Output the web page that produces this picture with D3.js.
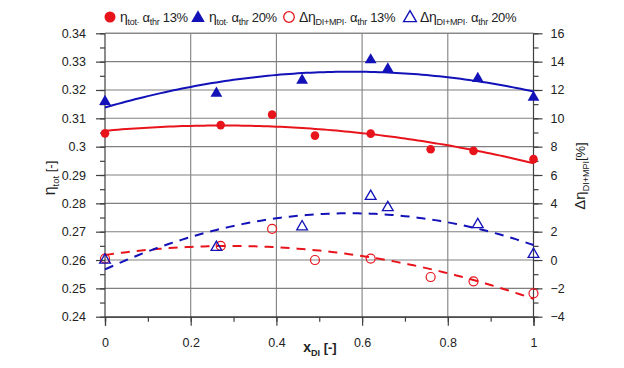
<!DOCTYPE html>
<html><head><meta charset="utf-8">
<script src="https://cdn.jsdelivr.net/npm/d3@7"></script>
<style>body{margin:0;background:#fff} text{font-family:"Liberation Sans",Arial,sans-serif;fill:#222}</style>
</head><body><svg id="c" width="624" height="368"></svg>
<script>
// ---- data ----
const etaX13 = [0, 0.27, 0.39, 0.49, 0.62, 0.76, 0.86, 1.0];
const eta13  = [0.3047, 0.3076, 0.3113, 0.3039, 0.3046, 0.2991, 0.2985, 0.2956];
const etaX20 = [0, 0.26, 0.46, 0.62, 0.66, 0.87, 1.0];
const eta20  = [0.3159, 0.3188, 0.3234, 0.3306, 0.3274, 0.3240, 0.3174];
const dX13   = [0, 0.27, 0.39, 0.49, 0.62, 0.76, 0.86, 1.0];
const d13    = [0.1, 1.0, 2.2, 0.0, 0.1, -1.2, -1.5, -2.35];
const dX20   = [0, 0.26, 0.46, 0.62, 0.66, 0.87, 1.0];
const d20    = [0.0, 0.9, 2.35, 4.5, 3.7, 2.5, 0.4];
const xTicks = [0, 0.2, 0.4, 0.6, 0.8, 1];
const xTickLabels = ["0", "0.2", "0.4", "0.6", "0.8", "1"];
const leftTicks = [0.24, 0.25, 0.26, 0.27, 0.28, 0.29, 0.30, 0.31, 0.32, 0.33, 0.34];
const leftTickLabels = ["0.24","0.25","0.26","0.27","0.28","0.29","0.3","0.31","0.32","0.33","0.34"];
const rightTicks = [-4, -2, 0, 2, 4, 6, 8, 10, 12, 14, 16];

const RED = "#e8141c", BLUE = "#1212b8";
const L = 105, R = 533.5, T = 33.3, B = 316.7;

const svg = d3.select("#c");
const x = d3.scaleLinear().domain([0, 1]).range([L, R]);
const yL = d3.scaleLinear().domain([0.24, 0.34]).range([B, T]);
const yR = d3.scaleLinear().domain([-4, 16]).range([B, T]);

// quadratic least squares trend (like spreadsheet polynomial trendline)
function quadFit(xs, ys) {
  let S = [0,0,0,0,0], Sy = [0,0,0];
  xs.forEach((xv, i) => {
    for (let k = 0; k < 5; k++) S[k] += Math.pow(xv, k);
    for (let k = 0; k < 3; k++) Sy[k] += ys[i] * Math.pow(xv, k);
  });
  const M = [[S[0],S[1],S[2],Sy[0]],[S[1],S[2],S[3],Sy[1]],[S[2],S[3],S[4],Sy[2]]];
  for (let i = 0; i < 3; i++) {
    let p = i; for (let r = i+1; r < 3; r++) if (Math.abs(M[r][i]) > Math.abs(M[p][i])) p = r;
    [M[i], M[p]] = [M[p], M[i]];
    for (let r = 0; r < 3; r++) if (r !== i) {
      const f = M[r][i] / M[i][i];
      for (let c = i; c < 4; c++) M[r][c] -= f * M[i][c];
    }
  }
  const c = M.map((row, i) => row[3] / row[i]);
  return t => c[0] + c[1]*t + c[2]*t*t;
}

// grid
const g = svg.append("g");
g.selectAll(".hg").data(leftTicks.slice(1)).join("line")
  .attr("x1", L).attr("x2", R).attr("y1", d => yL(d)).attr("y2", d => yL(d))
  .attr("stroke", "#808080").attr("stroke-width", 1.1);
g.selectAll(".vg").data(xTicks.slice(1, -1)).join("line")
  .attr("x1", d => x(d)).attr("x2", d => x(d)).attr("y1", T).attr("y2", B)
  .attr("stroke", "#808080").attr("stroke-width", 1.1);

// axes
const axL = svg.append("g").attr("transform", `translate(${L},0)`)
  .call(d3.axisLeft(yL).tickValues(d3.range(0.24, 0.3401, 0.005)).tickSize(5).tickFormat(""));
const axL2 = svg.append("g").attr("transform", `translate(${L},0)`)
  .call(d3.axisLeft(yL).tickValues(leftTicks).tickSize(9).tickPadding(10)
    .tickFormat((d, i) => leftTickLabels[i]));
const axR = svg.append("g").attr("transform", `translate(${R},0)`)
  .call(d3.axisRight(yR).tickValues(d3.range(-4, 16.01, 1)).tickSize(5).tickFormat(""));
const axR2 = svg.append("g").attr("transform", `translate(${R},0)`)
  .call(d3.axisRight(yR).tickValues(rightTicks).tickSize(9).tickPadding(8));
const axB = svg.append("g").attr("transform", `translate(0,${B})`)
  .call(d3.axisBottom(x).tickValues(d3.range(0, 1.001, 0.1)).tickSize(5).tickFormat(""));
const axB2 = svg.append("g").attr("transform", `translate(0,${B})`)
  .call(d3.axisBottom(x).tickValues(xTicks).tickSize(9).tickPadding(12)
    .tickFormat((d, i) => xTickLabels[i]));
[axL, axL2, axR, axR2, axB, axB2].forEach(a => {
  a.selectAll("path").attr("stroke", "#404040").attr("stroke-width", 1.2);
  a.selectAll("line").attr("stroke", "#404040").attr("stroke-width", 1.2);
  a.selectAll("text").attr("font-size", 12.5).attr("fill", "#222")
    .style("font-family", "'Liberation Sans',Arial,sans-serif");
});
[axL, axL2, axR, axR2].forEach(a => a.select(".domain").attr("d", null));
svg.append("line").attr("x1", L).attr("x2", L).attr("y1", T).attr("y2", B).attr("stroke", "#404040").attr("stroke-width", 1.2);
svg.append("line").attr("x1", R).attr("x2", R).attr("y1", T).attr("y2", B).attr("stroke", "#404040").attr("stroke-width", 1.2);
svg.append("line").attr("x1", L).attr("x2", R).attr("y1", T).attr("y2", T).attr("stroke", "#808080").attr("stroke-width", 1.1);

// trend lines
const ts = d3.range(0, 1.0001, 0.01);
function trend(xs, ys, yScale, color, dashed) {
  const f = quadFit(xs, ys);
  svg.append("path").datum(ts)
    .attr("d", d3.line().x(t => x(t)).y(t => yScale(f(t))))
    .attr("fill", "none").attr("stroke", color).attr("stroke-width", 2)
    .attr("stroke-dasharray", dashed ? "9,7" : null);
}
trend(etaX13, eta13, yL, RED, false);
trend(etaX20, eta20, yL, BLUE, false);
trend(dX13, d13, yR, RED, true);
trend(dX20, d20, yR, BLUE, true);

// markers
const tri = d3.symbol().type(d3.symbolTriangle);
svg.append("g").selectAll("circle").data(eta13).join("circle")
  .attr("cx", (d, i) => x(etaX13[i])).attr("cy", d => yL(d)).attr("r", 4.3).attr("fill", RED);
svg.append("g").selectAll("path").data(eta20).join("path")
  .attr("transform", (d, i) => `translate(${x(etaX20[i])},${yL(d)})`)
  .attr("d", tri.size(60)).attr("fill", BLUE);
svg.append("g").selectAll("circle").data(d13).join("circle")
  .attr("cx", (d, i) => x(dX13[i])).attr("cy", d => yR(d)).attr("r", 4.5)
  .attr("fill", "none").attr("stroke", RED).attr("stroke-width", 1.2);
svg.append("g").selectAll("path").data(d20).join("path")
  .attr("transform", (d, i) => `translate(${x(dX20[i])},${yR(d)})`)
  .attr("d", tri.size(50)).attr("fill", "none").attr("stroke", BLUE).attr("stroke-width", 1.3);

// axis titles
function rich(sel, parts) {
  parts.forEach(p => {
    const t = sel.append("tspan").text(p[0]);
    if (p[1] === "sub") t.attr("font-size", p[2] || 10).attr("dy", 4);
    else if (p[1] === "up") t.attr("dy", -4).attr("font-size", p[2] || 14);
    else t.attr("font-size", p[2] || 14);
  });
}
const lt = svg.append("text").attr("transform", "translate(55,178) rotate(-90)")
  .attr("text-anchor", "middle");
rich(lt, [["η", "n", 16], ["tot", "sub", 9.5], [" [-]", "up", 13]]);
const rt = svg.append("text").attr("transform", "translate(585,176) rotate(-90)")
  .attr("text-anchor", "middle");
rich(rt, [["Δη", "n", 15], ["DI+MPI", "sub", 9], ["[%]", "up", 13]]);
const bt = svg.append("text").attr("x", 320).attr("y", 352)
  .attr("text-anchor", "middle").attr("font-weight", "bold");
rich(bt, [["x", "n", 14], ["DI", "sub", 9], [" [-]", "up", 13]]);

// legend
const leg = svg.append("g");
const LY = 17;
leg.append("circle").attr("cx", 110).attr("cy", LY).attr("r", 5.5).attr("fill", RED);
leg.append("path").attr("transform", `translate(198,${LY + 1})`).attr("d", tri.size(80)).attr("fill", BLUE);
leg.append("circle").attr("cx", 289).attr("cy", LY).attr("r", 5.3).attr("fill", "none").attr("stroke", RED).attr("stroke-width", 1.3);
leg.append("path").attr("transform", `translate(410,${LY + 1})`).attr("d", tri.size(70)).attr("fill", "none").attr("stroke", BLUE).attr("stroke-width", 1.4);
function legText(xp, parts) {
  const t = leg.append("text").attr("x", xp).attr("y", LY + 5);
  parts.forEach(p => {
    const s = t.append("tspan").text(p[0]);
    if (p[1] === "sub") s.attr("font-size", 9).attr("dy", 3);
    else if (p[1] === "up") s.attr("font-size", 13).attr("dy", -3);
    else s.attr("font-size", 14);
  });
}
legText(120, [["η", "n"], ["tot·", "sub"], [" α", "up"], ["thr", "sub"], [" 13%", "up"]]);
legText(209, [["η", "n"], ["tot·", "sub"], [" α", "up"], ["thr", "sub"], [" 20%", "up"]]);
legText(299, [["Δη", "n"], ["DI+MPI·", "sub"], [" α", "up"], ["thr", "sub"], [" 13%", "up"]]);
legText(420, [["Δη", "n"], ["DI+MPI·", "sub"], [" α", "up"], ["thr", "sub"], [" 20%", "up"]]);
leg.selectAll("text").attr("letter-spacing", -0.3);
</script></body></html>
